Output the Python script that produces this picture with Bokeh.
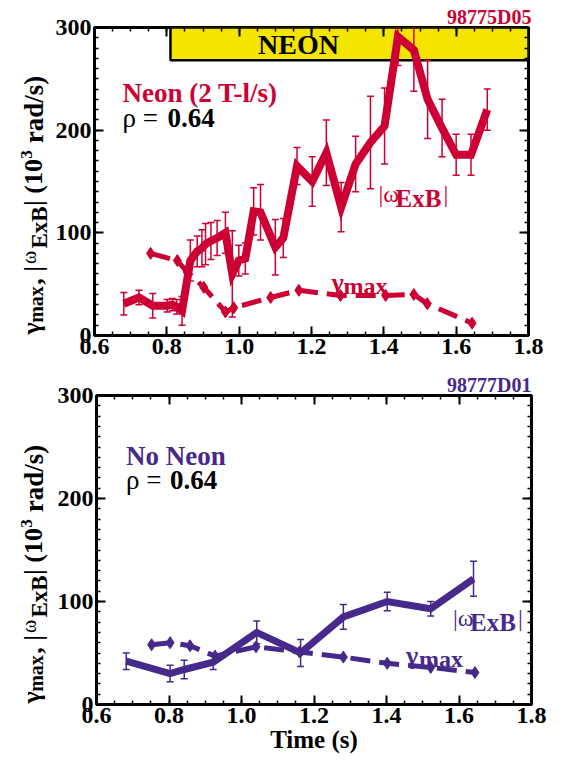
import numpy as np
from bokeh.plotting import figure
from bokeh.layouts import column, row
from bokeh.models import Range1d, FixedTicker, LinearAxis, Label, PrintfTickFormatter
from bokeh.embed import file_html
from bokeh.resources import INLINE

# ---------------- data ----------------
top_time = [0.681, 0.723, 0.761, 0.801, 0.815, 0.827, 0.842, 0.865, 0.884, 0.897, 0.907, 0.922,
            0.939, 0.962, 0.981, 0.999, 1.017, 1.040, 1.059, 1.100, 1.122, 1.160, 1.202, 1.241,
            1.282, 1.322, 1.363, 1.402, 1.439, 1.483, 1.521, 1.561, 1.600, 1.641, 1.686]
top_omega = [31, 37, 29, 29, 30, 28, 24, 73, 82, 85, 89, 92,
             95, 100, 60, 73, 75, 121, 120, 86, 95, 165, 150, 178,
             125, 167, 188, 204, 291, 278, 230, 202, 176, 176, 220]
top_omega_err = [11, 7, 12, 6, 6, 7, 14, 20, 15, 18, 20, 18,
                 17, 20, 42, 15, 15, 23, 27, 27, 19, 18, 24, 32,
                 24, 27, 45, 37, 28, 40, 38, 28, 20, 20, 20]
top_gamma_time = [0.755, 0.829, 0.856, 0.902, 0.962, 0.985, 1.087, 1.165, 1.280, 1.405, 1.483, 1.520, 1.644]
top_gamma = [80, 73, 62, 47, 23, 27, 37, 44, 39, 39, 40, 31, 12]

bot_time = [0.682, 0.803, 0.842, 0.922, 1.042, 1.163, 1.281, 1.402, 1.522, 1.640]
bot_omega = [42, 30, 34, 41, 70, 50, 85, 100, 93, 122]
bot_omega_err = [8, 8, 9, 7, 11, 13, 12, 9, 7, 17]
bot_gamma_time = [0.752, 0.803, 0.858, 0.927, 1.040, 1.160, 1.281, 1.402, 1.522, 1.644]
bot_gamma = [58, 60, 57, 47, 56, 51, 46, 40, 36, 31]

x_ticks = [0.6, 0.8, 1.0, 1.2, 1.4, 1.6, 1.8]
y_ticks = [0, 100, 200, 300]
neon_window = [0.81, 1.8]

RED = "#CC0033"
PURPLE = "#46298A"
YELLOW = "#F4E500"
FONT = "Liberation Serif"
LABW = 52  # width of the strip that carries the vertical axis title


def make_fig(fl, ft, fw, fh, br, bt, bb, ident, color, offset):
    p = figure(frame_width=fw, frame_height=fh, min_border_left=int(round(fl - LABW)),
               min_border_right=br, min_border_top=bt, min_border_bottom=bb,
               x_range=Range1d(0.6, 1.8), y_range=Range1d(0, 300),
               output_backend="svg", toolbar_location=None, tools="",
               title=ident, title_location="above")
    p.title.align = "right"
    p.title.offset = offset
    p.title.standoff = 0
    p.title.text_font = FONT
    p.title.text_font_size = "20px"
    p.title.text_font_style = "bold"
    p.title.text_color = color
    p.grid.visible = False
    p.outline_line_color = "black"
    p.outline_line_width = 3
    p.background_fill_color = "white"
    p.border_fill_color = "white"
    xt = FixedTicker(ticks=x_ticks, minor_ticks=list(np.round(np.arange(0.6, 1.8001, 0.05), 3)))
    yt = FixedTicker(ticks=y_ticks, minor_ticks=list(np.arange(0, 301, 10)))
    p.add_layout(LinearAxis(), "above")
    p.add_layout(LinearAxis(), "right")
    for ax in p.xaxis:
        ax.ticker = xt
        ax.formatter = PrintfTickFormatter(format="%.1f")
    for ax in p.yaxis:
        ax.ticker = yt
    for ax in p.axis:
        ax.axis_line_color = None
        ax.major_tick_in = 9
        ax.major_tick_out = 0
        ax.minor_tick_in = 4
        ax.minor_tick_out = 0
        ax.major_tick_line_width = 2
        ax.minor_tick_line_width = 1.5
        ax.major_tick_line_color = "black"
        ax.minor_tick_line_color = "black"
        ax.major_label_text_font = FONT
        ax.major_label_text_font_style = "bold"
        ax.major_label_text_font_size = "24px"
        ax.major_label_text_color = "black"
        ax.major_label_standoff = 3
    p.left[0].major_label_standoff = 3
    for ax in (p.above[0], p.right[0]):
        ax.major_label_text_color = None
        ax.major_label_text_font_size = "1px"
        ax.major_label_standoff = 0

    def tx(px):
        return 0.6 + (px - fl) / fw * 1.2

    def ty(py):
        return (ft + fh - py) / fh * 300.0

    return p, tx, ty


def lab(p, tx, ty, px, py, text, size, color="black", bold=True, angle=0.0, align="left",
        baseline="alphabetic"):
    p.add_layout(Label(x=tx(px), y=ty(py), text=text, text_font=FONT, text_font_size=f"{size}px",
                       text_font_style="bold" if bold else "normal", text_color=color,
                       angle=angle, text_align=align, text_baseline=baseline))


def ylabel_fig(height, top, dy):
    q = figure(frame_width=LABW, frame_height=height, x_range=Range1d(0, LABW),
               y_range=Range1d(0, height), title=None,
               output_backend="svg", toolbar_location=None, tools="",
               x_axis_location=None, y_axis_location=None,
               min_border_left=0, min_border_right=0, min_border_top=0, min_border_bottom=0)
    q.grid.visible = False
    q.outline_line_color = None
    q.border_fill_color = "white"

    def tx(px):
        return px

    def ty(py):
        return height - (py - top)

    a = np.pi / 2
    # (centre x, centre y, text, size, bold) of each piece of the vertical title
    pieces = [
        (31, 301, "γ", 26, True),
        (35, 277, "max", 20, True),
        (33, 248, ", |", 26, True),
        (28, 230, "ω", 20, False),
        (39, 200, "ExB", 23, True),
        (33, 155, "| (10", 26, True),
        (26, 127, "3", 17, True),
        (33, 82, "rad/s)", 27, True),
    ]
    for cx, cy, t, s, b in pieces:
        lab(q, tx, ty, cx, cy + dy, t, s, bold=b, angle=a, align="center", baseline="middle")
    return q


def errorbars(p, t, v, e, color):
    lo = [a - b for a, b in zip(v, e)]
    hi = [a + b for a, b in zip(v, e)]
    p.segment(x0=t, y0=lo, x1=t, y1=hi, line_color=color, line_width=1.5)
    p.scatter(x=t, y=hi, marker="dash", size=7, line_color=color, line_width=1.5)
    p.scatter(x=t, y=lo, marker="dash", size=7, line_color=color, line_width=1.5)


# ---------------- top panel ----------------
p1, tx1, ty1 = make_fig(94, 27, 434, 308, 30, 27, 32, "98775D05", RED, -3)
p1.quad(left=neon_window[0], right=neon_window[1], bottom=268, top=300,
        fill_color=YELLOW, line_color="black", line_width=2.5)
lab(p1, tx1, ty1, 298, 44, "NEON", 28, align="center", baseline="middle")
errorbars(p1, top_time, top_omega, top_omega_err, RED)
p1.line(top_time, top_omega, line_color=RED, line_width=8, line_join="miter")
p1.line(top_gamma_time, top_gamma, line_color=RED, line_width=5, line_dash="20 9")
p1.scatter(top_gamma_time, top_gamma, marker="diamond", size=12, fill_color=RED, line_color=RED)
lab(p1, tx1, ty1, 122, 92, "Neon (2 T-l/s)", 27, color=RED)
lab(p1, tx1, ty1, 122, 117, "ρ =", 27, bold=False)
lab(p1, tx1, ty1, 167, 117, "0.64", 27)
lab(p1, tx1, ty1, 378, 193, "|ω", 24, color=RED, bold=False)
lab(p1, tx1, ty1, 395, 198, "ExB", 25, color=RED)
lab(p1, tx1, ty1, 443, 193, "|", 24, color=RED, bold=False)
lab(p1, tx1, ty1, 331, 282, "γ", 26, color=RED)
lab(p1, tx1, ty1, 343, 285, "max", 24, color=RED)
h1 = 27 + 308 + 32

# ---------------- bottom panel ----------------
p2, tx2, ty2 = make_fig(96.5, 395, 435, 309, 27, 395 - h1, 50, "98777D01", PURPLE, 0)
errorbars(p2, bot_time, bot_omega, bot_omega_err, PURPLE)
p2.line(bot_time, bot_omega, line_color=PURPLE, line_width=7, line_join="miter")
p2.line(bot_gamma_time, bot_gamma, line_color=PURPLE, line_width=5, line_dash="20 9")
p2.scatter(bot_gamma_time, bot_gamma, marker="diamond", size=12, fill_color=PURPLE, line_color=PURPLE)
lab(p2, tx2, ty2, 126, 455, "No Neon", 27, color=PURPLE)
lab(p2, tx2, ty2, 126, 479, "ρ =", 27, bold=False)
lab(p2, tx2, ty2, 170, 479, "0.64", 27)
lab(p2, tx2, ty2, 453, 617, "|ω", 24, color=PURPLE, bold=False)
lab(p2, tx2, ty2, 470, 622, "ExB", 25, color=PURPLE)
lab(p2, tx2, ty2, 518, 617, "|", 24, color=PURPLE, bold=False)
lab(p2, tx2, ty2, 406, 655, "γ", 26, color=PURPLE)
lab(p2, tx2, ty2, 419, 658, "max", 24, color=PURPLE)
xb = p2.below[0]
xb.axis_label = "Time (s)"
xb.axis_label_text_font = FONT
xb.axis_label_text_font_size = "25px"
xb.axis_label_text_font_style = "bold"
xb.axis_label_text_color = "black"
xb.axis_label_standoff = 0

q1 = ylabel_fig(h1, 0, 0)
q2 = ylabel_fig(390, h1, 368)

layout = column(row(q1, p1, spacing=0), row(q2, p2, spacing=0), spacing=0)
open("out.html", "w").write(file_html(layout, INLINE))
